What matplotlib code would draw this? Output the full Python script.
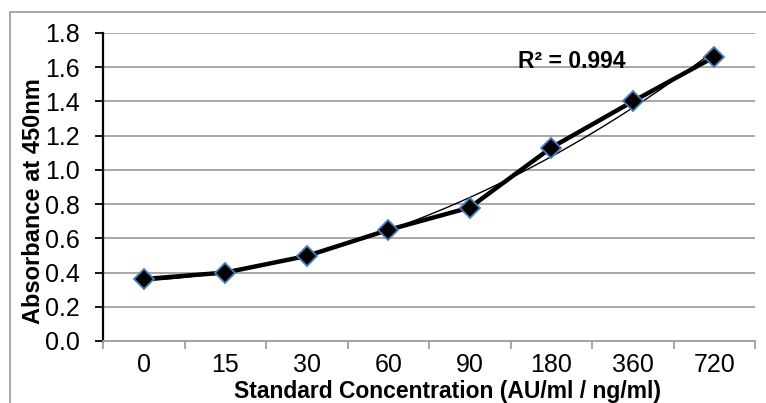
import numpy as np
import matplotlib.pyplot as plt
from matplotlib.patches import Rectangle

plt.rcParams['font.family'] = ['Liberation Sans', 'DejaVu Sans']

concentrations = ['0', '15', '30', '60', '90', '180', '360', '720']
absorbance = [0.362, 0.40, 0.497, 0.649, 0.78, 1.13, 1.40, 1.66]
r2_label = 'R² = 0.994'

W, H = 766, 403
fig = plt.figure(figsize=(W / 100, H / 100), dpi=100)

# outer chart border (cropped at right and bottom)
fig.patches.append(Rectangle((10 / W, -0.1), 1.2, (H - 12) / H + 0.1,
                             transform=fig.transFigure, fill=False,
                             edgecolor='#a0a0a0', linewidth=1.3))

left, right, top, bottom = 103, 755, 33, 341
ax = fig.add_axes([left / W, (H - bottom) / H, (right - left) / W, (bottom - top) / H])

x = np.arange(len(concentrations))

# polynomial (order 2) trendline, as Excel draws it
coef = np.polyfit(x, absorbance, 2)
xs = np.linspace(x[0], x[-1], 200)
ax.plot(xs, np.polyval(coef, xs), color='black', linewidth=1.0, zorder=3)

ax.plot(x, absorbance, color='black', linewidth=3.2, marker='D', markersize=10,
        markerfacecolor='black', markeredgecolor='#4a7ebb', markeredgewidth=1.3,
        zorder=4)

fig.text(518 / W, (H - 62) / H, r2_label, fontsize=16.5, fontweight='bold',
         ha='left', va='center')

ax.set_xlim(-0.5, len(concentrations) - 0.5)
ax.set_ylim(0, 1.8)
ax.set_yticks(np.arange(0, 1.81, 0.2))
ax.set_yticklabels(['{:.1f}'.format(v) for v in np.arange(0, 1.81, 0.2)])
ax.grid(axis='y', color='#a0a0a0', linewidth=1.3)
ax.set_axisbelow(True)

ax.set_xticks(x)
ax.set_xticklabels(concentrations)
ax.set_xticks(np.arange(-0.5, len(concentrations)), minor=True)
ax.tick_params(axis='x', which='major', length=0, pad=9, labelsize=18)
ax.tick_params(axis='x', which='minor', length=6, width=1.3, color='#a0a0a0')
ax.tick_params(axis='y', length=6, width=1.3, color='black', pad=11, labelsize=18)

for side in ['top', 'right']:
    ax.spines[side].set_visible(False)
ax.spines['left'].set_color('black')
ax.spines['left'].set_linewidth(1.6)
ax.spines['bottom'].set_color('#a0a0a0')
ax.spines['bottom'].set_linewidth(1.3)

fig.text(34 / W, (H - 201) / H, 'Absorbance at 450nm', rotation=90,
         fontsize=17, fontweight='bold', ha='center', va='center')
fig.text(448 / W, (H - 380) / H, 'Standard Concentration (AU/ml / ng/ml)',
         fontsize=16.5, fontweight='bold', ha='center', va='top')

fig.savefig('out.png', dpi=100)
